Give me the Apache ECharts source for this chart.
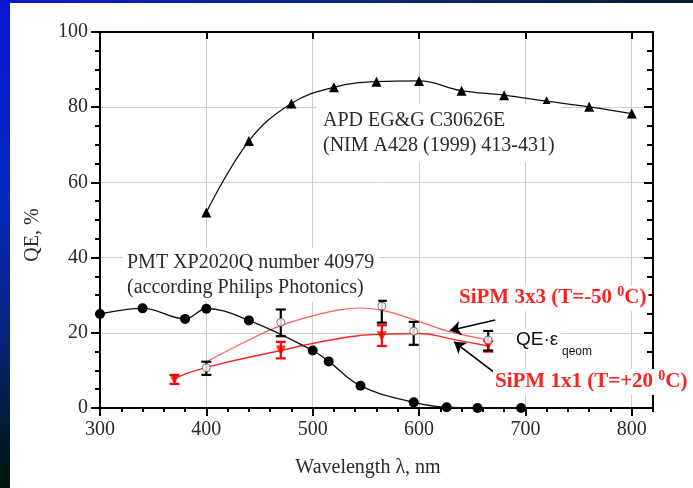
<!DOCTYPE html>
<html>
<head>
<meta charset="utf-8">
<script src="https://cdn.jsdelivr.net/npm/echarts@6/dist/echarts.min.js"></script>
<style>
  html, body { margin: 0; padding: 0; width: 693px; height: 488px; overflow: hidden; }
  body { background: linear-gradient(to bottom, #0a18d6 0%, #0828c0 40%, #08247a 70%, #001408 100%); position: relative; }
  #topstrip { position: absolute; left: 0; top: 0; width: 693px; height: 3px; background: linear-gradient(to right, #0a18d0, #0a2a80 50%, #061c30); }
  #panel { position: absolute; left: 10px; top: 3px; width: 683px; height: 485px; background: #fff; }
  #chart { position: absolute; left: 0; top: 0; width: 693px; height: 488px; }
</style>
</head>
<body>
<div id="topstrip"></div>
<div id="panel"></div>
<div id="chart"></div>
<script>
// APD EG&G C30626E
const apdX = [400, 440, 480, 520, 560, 600, 640, 680, 720, 760, 800]
const apdY = [52, 71, 81, 85.3, 86.8, 87, 84.4, 83.2, 81.6, 80.1, 78.3]
// PMT XP2020Q
const pmtX = [300, 340, 380, 400, 440, 500, 515, 545, 595, 626, 655, 696]
const pmtY = [25, 26.5, 23.7, 26.4, 23.3, 15.3, 12.4, 5.9, 1.5, 0.2, 0, 0]
// SiPM 3x3 (T=-50) fit curve and points with errors
const fit3X = [400, 440, 470, 500, 525, 545, 570, 601, 629, 665]
const fit3Y = [12.3, 18.1, 21.9, 24.5, 26.1, 26.6, 25.7, 22.9, 20.3, 18.1]
const pts3X = [400, 470, 565, 595, 665]
const pts3Y = [10.7, 22.8, 27.1, 20.4, 18.1]
const pts3Lo = [8.8, 19.1, 22.7, 16.8, 15.3]
const pts3Hi = [12.3, 26.2, 28.5, 22.9, 20.5]
// SiPM 1x1 (T=+20) fit curve and points with errors
const fit1X = [370, 400, 470, 525, 565, 600, 633, 665]
const fit1Y = [7.9, 10.8, 15.3, 18.5, 19.6, 19.8, 18.2, 16.5]
const pts1X = [370, 470, 565, 665]
const pts1Y = [7.6, 15.3, 19.1, 16.7]
const pts1Lo = [6.4, 13.2, 16.5, 15]
const pts1Hi = [8.8, 17.6, 22, 17.8]

const xTicks = [300, 400, 500, 600, 700, 800]
const yTicks = [0, 20, 40, 60, 80, 100]

const serif = 'Liberation Serif'
const sans = 'Liberation Sans'
const zip = (xs, ys) => xs.map((x, i) => [x, ys[i]])
const zipErr = (xs, lo, hi) => xs.map((x, i) => [x, lo[i], hi[i]])

const errorBars = color => (params, api) => {
    const x = api.value(0)
    const top = api.coord([x, api.value(2)])
    const bot = api.coord([x, api.value(1)])
    const w = 5
    const st = { stroke: color, lineWidth: 2.2 }
    return {
        type: 'group',
        children: [
            { type: 'line', shape: { x1: top[0], y1: top[1], x2: bot[0], y2: bot[1] }, style: st },
            { type: 'line', shape: { x1: top[0] - w, y1: top[1], x2: top[0] + w, y2: top[1] }, style: st },
            { type: 'line', shape: { x1: bot[0] - w, y1: bot[1], x2: bot[0] + w, y2: bot[1] }, style: st }
        ]
    }
}

const axisLine = { show: true, onZero: false, lineStyle: { color: '#000', width: 2 } }
const noLine = { show: false }
const xBase = { type: 'value', min: 300, max: 820 }
const yBase = { type: 'value', min: 0, max: 100 }

const chart = echarts.init(document.getElementById('chart'))
chart.setOption({
    animation: false,
    grid: { left: 100, right: 40, top: 32, bottom: 80 },
    xAxis: [
        Object.assign({}, xBase, {
            position: 'bottom', interval: 100, axisLine,
            axisTick: { length: 8, lineStyle: { color: '#000', width: 2 } },
            axisLabel: {
                showMaxLabel: false, margin: 12, fontFamily: serif, fontSize: 20, color: '#2a2a2a',
                formatter: v => xTicks.includes(v) ? String(v) : ''
            },
            splitLine: { show: true, showMinLine: false, lineStyle: { color: '#cdcdcd', width: 1 } }
        }),
        Object.assign({}, xBase, {
            position: 'bottom', interval: 20, axisLine: noLine,
            axisTick: { length: 4, lineStyle: { color: '#000', width: 2 } },
            axisLabel: { show: false }, splitLine: { show: false }
        }),
        Object.assign({}, xBase, {
            position: 'top', interval: 100, axisLine,
            axisTick: { inside: true, length: 7, lineStyle: { color: '#000', width: 2 } },
            axisLabel: { show: false }, splitLine: { show: false }
        }),
        Object.assign({}, xBase, {
            position: 'top', interval: 20, axisLine: noLine,
            axisTick: { inside: true, length: 4, lineStyle: { color: '#000', width: 2 } },
            axisLabel: { show: false }, splitLine: { show: false }
        })
    ],
    yAxis: [
        Object.assign({}, yBase, {
            position: 'left', interval: 20, axisLine,
            axisTick: { length: 9, lineStyle: { color: '#000', width: 2 } },
            axisLabel: {
                margin: 12, fontFamily: serif, fontSize: 20, color: '#2a2a2a',
                formatter: v => yTicks.includes(v) ? String(v) : ''
            },
            splitLine: { show: true, showMinLine: false, showMaxLine: false, lineStyle: { color: '#cdcdcd', width: 1 } }
        }),
        Object.assign({}, yBase, {
            position: 'left', interval: 5, axisLine: noLine,
            axisTick: { length: 5, lineStyle: { color: '#000', width: 2 } },
            axisLabel: { show: false }, splitLine: { show: false }
        }),
        Object.assign({}, yBase, {
            position: 'right', interval: 20, axisLine,
            axisTick: { inside: true, length: 9, lineStyle: { color: '#000', width: 2 } },
            axisLabel: { show: false }, splitLine: { show: false }
        }),
        Object.assign({}, yBase, {
            position: 'right', interval: 5, axisLine: noLine,
            axisTick: { inside: true, length: 6, lineStyle: { color: '#000', width: 2 } },
            axisLabel: { show: false }, splitLine: { show: false }
        })
    ],
    series: [
        {
            name: 'APD', type: 'line', data: zip(apdX, apdY), smooth: 0.4,
            symbol: 'triangle', symbolSize: 10,
            lineStyle: { color: '#111', width: 1.3 }, itemStyle: { color: '#000' }, z: 3
        },
        {
            name: 'PMT', type: 'line', data: zip(pmtX, pmtY), smooth: 0.4,
            symbol: 'circle', symbolSize: 10,
            lineStyle: { color: '#111', width: 1.3 }, itemStyle: { color: '#000' }, z: 3
        },
        {
            name: 'SiPM 3x3 fit', type: 'line', data: zip(fit3X, fit3Y), smooth: 0.4,
            symbol: 'none', lineStyle: { color: '#ff5c5c', width: 1.2 }, z: 2,
            markLine: {
                silent: true, symbol: ['none', 'arrow'], symbolSize: 11,
                lineStyle: { color: '#000', width: 1.6, type: 'solid' }, label: { show: false },
                data: [
                    [{ coord: [671.6, 23.4] }, { coord: [629, 20.6] }],
                    [{ coord: [671, 9.4] }, { coord: [633, 17.6] }]
                ]
            }
        },
        {
            name: 'SiPM 1x1 fit', type: 'line', data: zip(fit1X, fit1Y), smooth: 0.5,
            symbol: 'none', lineStyle: { color: '#ff2424', width: 1.4 }, z: 2
        },
        {
            name: 'SiPM 1x1 err', type: 'custom', data: zipErr(pts1X, pts1Lo, pts1Hi),
            encode: { x: 0, y: [1, 2] }, renderItem: errorBars('#ff0000'), z: 4
        },
        {
            name: 'SiPM 3x3 err', type: 'custom', data: zipErr(pts3X, pts3Lo, pts3Hi),
            encode: { x: 0, y: [1, 2] }, renderItem: errorBars('#000'), z: 5
        },
        {
            name: 'SiPM 1x1', type: 'scatter', data: zip(pts1X, pts1Y),
            symbol: 'triangle', symbolRotate: 180, symbolSize: 10,
            itemStyle: { color: '#ff0000' }, z: 6
        },
        {
            name: 'SiPM 3x3', type: 'scatter', data: zip(pts3X, pts3Y),
            symbol: 'circle', symbolSize: 8,
            itemStyle: { color: '#fff', borderColor: '#555', borderWidth: 1 }, z: 7
        }
    ],
    graphic: [
        {
            type: 'text', x: 33, y: 235, rotation: Math.PI / 2, z: 10,
            style: { text: 'QE, %', font: '20px "Liberation Serif"', fill: '#2a2a2a', align: 'center', verticalAlign: 'middle' }
        },
        {
            type: 'text', x: 368, y: 468, z: 10,
            style: { text: 'Wavelength λ, nm', font: '20px "Liberation Serif"', fill: '#2a2a2a', align: 'center', verticalAlign: 'middle' }
        },
        {
            type: 'text', x: 317, y: 133, z: 10,
            style: {
                text: 'APD EG&G C30626E\n(NIM A428 (1999) 413-431)', font: '20px "Liberation Serif"', lineHeight: 25,
                fill: '#2a2a2a', verticalAlign: 'middle', backgroundColor: '#fff', padding: [4, 6, 4, 6]
            }
        },
        {
            type: 'text', x: 123, y: 275, z: 10,
            style: {
                text: 'PMT XP2020Q number 40979\n(according Philips Photonics)', font: '20px "Liberation Serif"', lineHeight: 25,
                fill: '#2a2a2a', verticalAlign: 'middle', backgroundColor: '#fff', padding: [2, 4, 2, 4]
            }
        },
        {
            type: 'text', x: 457, y: 298, z: 10,
            style: {
                text: '{m|SiPM 3x3 (T=-50 }{s|0}{m|C)}', verticalAlign: 'middle', backgroundColor: '#fff', padding: [0, 2, 0, 2],
                rich: {
                    m: { fontFamily: serif, fontWeight: 'bold', fontSize: 21, fill: '#ff2020', lineHeight: 26 },
                    s: { fontFamily: serif, fontWeight: 'bold', fontSize: 14, fill: '#ff2020', lineHeight: 26, verticalAlign: 'top' }
                }
            }
        },
        {
            type: 'text', x: 493, y: 382, z: 10,
            style: {
                text: '{m|SiPM 1x1 (T=+20 }{s|0}{m|C)}', verticalAlign: 'middle', backgroundColor: '#fff', padding: [0, 2, 0, 2],
                rich: {
                    m: { fontFamily: serif, fontWeight: 'bold', fontSize: 21, fill: '#ff2020', lineHeight: 26 },
                    s: { fontFamily: serif, fontWeight: 'bold', fontSize: 14, fill: '#ff2020', lineHeight: 26, verticalAlign: 'top' }
                }
            }
        },
        {
            type: 'text', x: 514, y: 340, z: 10,
            style: {
                text: 'QE·ε', font: '19px "Liberation Sans"', fill: '#111',
                verticalAlign: 'middle', backgroundColor: '#fff', padding: [1, 2, 1, 2]
            }
        },
        {
            type: 'text', x: 561, y: 352, z: 10,
            style: {
                text: 'qeom', font: '12px "Liberation Sans"', fill: '#111',
                verticalAlign: 'middle', backgroundColor: '#fff', padding: [0, 1, 0, 1]
            }
        }
    ]
})
</script>
</body>
</html>
